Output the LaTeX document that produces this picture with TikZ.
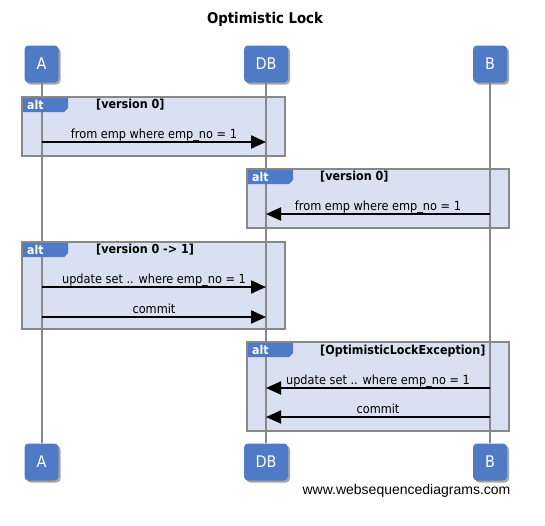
\documentclass[tikz,border=0pt]{standalone}
\usepackage{fontspec}
\setmainfont{DejaVu Sans Condensed}
\newfontfamily\footfont{Liberation Sans}
\usetikzlibrary{arrows.meta,shadows}
\definecolor{partblue}{HTML}{4F7AC6}
\definecolor{framefill}{HTML}{D8E0F1}
\definecolor{framegray}{HTML}{888888}
\tikzset{
  part/.style={draw=none, fill=partblue, rounded corners=4pt, minimum height=37pt,
    text=white, font=\fontsize{16}{18}\selectfont, inner sep=0pt,
    drop shadow={shadow xshift=2pt, shadow yshift=-2pt, fill=black, opacity=0.35}},
  altframe/.style={draw=framegray, line width=2pt, fill=framefill},
  alttab/.style={fill=partblue, draw=none},
  alttext/.style={text=white, font=\bfseries\fontsize{12.2}{13}\selectfont, anchor=west, inner sep=0pt},
  guard/.style={font=\bfseries\fontsize{12.4}{13}\selectfont, anchor=west, inner sep=0pt},
  lifeline/.style={draw=framegray, line width=2pt},
  msg/.style={line width=2pt, -{Triangle[length=15pt,width=13pt]}, shorten >=0pt},
  msgtext/.style={font=\fontsize{12.6}{14}\selectfont, inner sep=0pt, anchor=base},
}
\begin{document}
\begin{tikzpicture}[x=1pt, y=-1pt]
\useasboundingbox (0,0) rectangle (545,525);
% title
\node[font=\bfseries\fontsize{14.8}{16}\selectfont] (title) at (265,19) {Optimistic Lock};
% participants top
\node[part, minimum width=34pt] (At) at (41.5,64) {A};
\node[part, minimum width=44pt] (DBt) at (266,64) {DB};
\node[part, minimum width=34pt] (Bt) at (490,64) {B};
% participants bottom
\node[part, minimum width=34pt] (Ab) at (41.5,462) {A};
\node[part, minimum width=44pt] (DBb) at (266,462) {DB};
\node[part, minimum width=34pt] (Bb) at (490,462) {B};
% frames
\draw[altframe] (22,97) rectangle (285,156);
\draw[altframe] (247,169) rectangle (509,228);
\draw[altframe] (22,242) rectangle (285,329);
\draw[altframe] (247,342) rectangle (509,431);
% lifelines
\draw[lifeline] (At.south) -- (Ab.north);
\draw[lifeline] (DBt.south) -- (DBb.north);
\draw[lifeline] (Bt.south) -- (Bb.north);
% tabs
\foreach \fx/\fy in {22/97, 247/169, 22/242, 247/342}{
  \fill[alttab] (\fx+1,\fy+1) -- (\fx+46,\fy+1) -- (\fx+46,\fy+11) -- (\fx+42,\fy+15) -- (\fx+1,\fy+15) -- cycle;
  \node[alttext] at (\fx+5,\fy+8) {alt};
}
\node[guard] (g1) at (96,105) {[version 0]};
\node[guard] (g2) at (320,177) {[version 0]};
\node[guard] (g3) at (96,250) {[version 0 -> 1]};
\node[guard] (g4) at (320,351) {[OptimisticLockException]};
% message anchor points
\coordinate (a1) at (42,142);  \coordinate (d1) at (266,142);
\coordinate (b2) at (490,214); \coordinate (d2) at (266,214);
\coordinate (a3) at (42,287);  \coordinate (d3) at (266,287);
\coordinate (a4) at (42,317);  \coordinate (d4) at (266,317);
\coordinate (b5) at (490,388); \coordinate (d5) at (266,388);
\coordinate (b6) at (490,417); \coordinate (d6) at (266,417);
% messages
\draw[msg] (a1) -- (d1) node[msgtext, midway, yshift=4pt] {from emp where emp\_no = 1};
\draw[msg] (b2) -- (d2) node[msgtext, midway, yshift=4pt] {from emp where emp\_no = 1};
\draw[msg] (a3) -- (d3) node[msgtext, midway, yshift=4pt] {update set .. where emp\_no = 1};
\draw[msg] (a4) -- (d4) node[msgtext, midway, yshift=4pt] {commit};
\draw[msg] (b5) -- (d5) node[msgtext, midway, yshift=4pt] {update set .. where emp\_no = 1};
\draw[msg] (b6) -- (d6) node[msgtext, midway, yshift=4pt] {commit};
% footer
\node[font=\footfont\fontsize{14}{16}\selectfont] (foot) at (406.5,491) {www.websequencediagrams.com};
\end{tikzpicture}
\end{document}
